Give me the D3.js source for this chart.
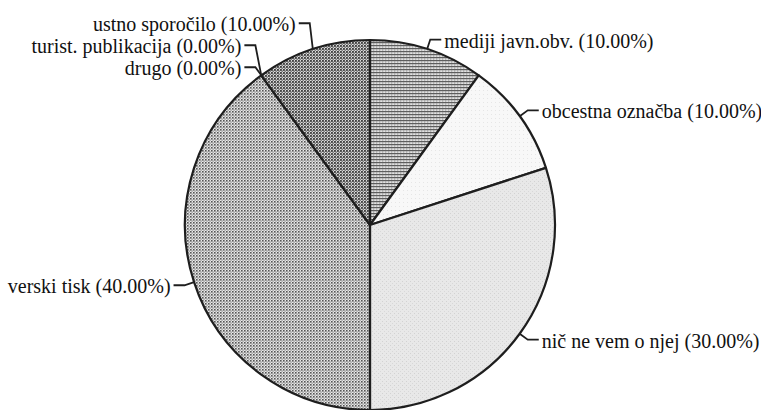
<!DOCTYPE html>
<html>
<head>
<meta charset="utf-8">
<script src="https://cdn.jsdelivr.net/npm/d3@7"></script>
<style>
  body { margin: 0; background: #fff; }
  svg { display: block; }
</style>
</head>
<body>
<div id="chart"></div>
<script>
// answer categories, clockwise from 12 o'clock
const categories = [
  "mediji javn.obv.",
  "obcestna označba",
  "nič ne vem o njej",
  "verski tisk",
  "drugo",
  "turist. publikacija",
  "ustno sporočilo"
];
const shares = [10, 10, 30, 40, 0, 0, 10];
const fills = ["url(#p-hatch)", "url(#p-white)", "url(#p-light)", "url(#p-check)", "#999", "#999", "url(#p-dots)"];

const width = 761, height = 410;
const cx = 370, cy = 225, r = 185;

const svg = d3.select("#chart").append("svg")
  .attr("width", width)
  .attr("height", height);

// halftone-ish fills
const defs = svg.append("defs");
function pattern(id, size, bg, draw) {
  const p = defs.append("pattern")
    .attr("id", id)
    .attr("patternUnits", "userSpaceOnUse")
    .attr("width", size).attr("height", size);
  p.append("rect").attr("width", size).attr("height", size).attr("fill", bg);
  draw(p);
}
pattern("p-check", 3, "#e8e8e8", p => {
  p.append("rect").attr("x", 0).attr("y", 0).attr("width", 1.6).attr("height", 1.6).attr("fill", "#555");
  p.append("rect").attr("x", 1.5).attr("y", 1.5).attr("width", 1.2).attr("height", 1.2).attr("fill", "#7a7a7a");
});
pattern("p-dots", 3, "#dcdcdc", p => {
  p.append("rect").attr("x", 0).attr("y", 0).attr("width", 1.9).attr("height", 1.9).attr("fill", "#444");
  p.append("rect").attr("x", 1.5).attr("y", 1.5).attr("width", 1.4).attr("height", 1.4).attr("fill", "#666");
});
pattern("p-hatch", 3, "#e2e2e2", p => {
  p.append("rect").attr("x", 0).attr("y", 0).attr("width", 3).attr("height", 1.2).attr("fill", "#5e5e5e");
  p.append("rect").attr("x", 0).attr("y", 1.5).attr("width", 1.3).attr("height", 1).attr("fill", "#8c8c8c");
});
pattern("p-light", 4, "#e8e8e8", p => {
  p.append("rect").attr("x", 0).attr("y", 0).attr("width", 1).attr("height", 1).attr("fill", "#d2d2d2");
  p.append("rect").attr("x", 2).attr("y", 2).attr("width", 1).attr("height", 1).attr("fill", "#d8d8d8");
});
pattern("p-white", 4, "#f8f8f8", p => {
  p.append("rect").attr("x", 1).attr("y", 1).attr("width", 1).attr("height", 1).attr("fill", "#e6e6e6");
});

const data = categories.map((c, i) => ({ name: c, value: shares[i], fill: fills[i] }));
const total = d3.sum(shares);

const pie = d3.pie()
  .sort(null)
  .value(d => d.value);
const arcs = pie(data);

const arc = d3.arc().innerRadius(0).outerRadius(r);

const g = svg.append("g").attr("transform", `translate(${cx},${cy})`);

g.selectAll("path.slice")
  .data(arcs.filter(d => d.data.value > 0))
  .enter()
  .append("path")
  .attr("class", "slice")
  .attr("d", arc)
  .attr("fill", d => d.data.fill)
  .attr("stroke", "#1e1e1e")
  .attr("stroke-width", 2.2)
  .attr("stroke-linejoin", "round");

// label layout: point on rim, elbow a bit outside, then horizontal tick
const labels = arcs.map(d => {
  const a = (d.startAngle + d.endAngle) / 2;
  const side = Math.sin(a) >= 0 ? 1 : -1;
  return {
    d, a, side,
    px: r * Math.sin(a), py: -r * Math.cos(a),
    ex: (r + 10) * Math.sin(a), ey: -(r + 10) * Math.cos(a)
  };
});

// push overlapping labels upward on each side
const gap = 22;
[1, -1].forEach(s => {
  const sideLabels = labels.filter(l => l.side === s)
    .sort((a, b) => (b.ey - a.ey) || (a.d.index - b.d.index));
  for (let i = 1; i < sideLabels.length; i++) {
    const prev = sideLabels[i - 1];
    if (prev.ey - sideLabels[i].ey < gap) sideLabels[i].ey = prev.ey - gap;
  }
});

const fmt = v => `${(v / total * 100).toFixed(2)}%`;

const lab = g.selectAll("g.label")
  .data(labels)
  .enter()
  .append("g")
  .attr("class", "label");

lab.append("polyline")
  .attr("points", l => [[l.px, l.py], [l.ex, l.ey], [l.ex + l.side * 11, l.ey]].map(p => p.join(",")).join(" "))
  .attr("fill", "none")
  .attr("stroke", "#1e1e1e")
  .attr("stroke-width", 1.8);

lab.append("text")
  .attr("x", l => l.ex + l.side * 14)
  .attr("y", l => l.ey)
  .attr("dy", "0.4em")
  .attr("text-anchor", l => l.side > 0 ? "start" : "end")
  .attr("font-family", "Liberation Serif")
  .attr("font-size", 20)
  .attr("fill", "#111")
  .text(l => `${l.d.data.name} (${fmt(l.d.data.value)})`);
</script>
</body>
</html>
